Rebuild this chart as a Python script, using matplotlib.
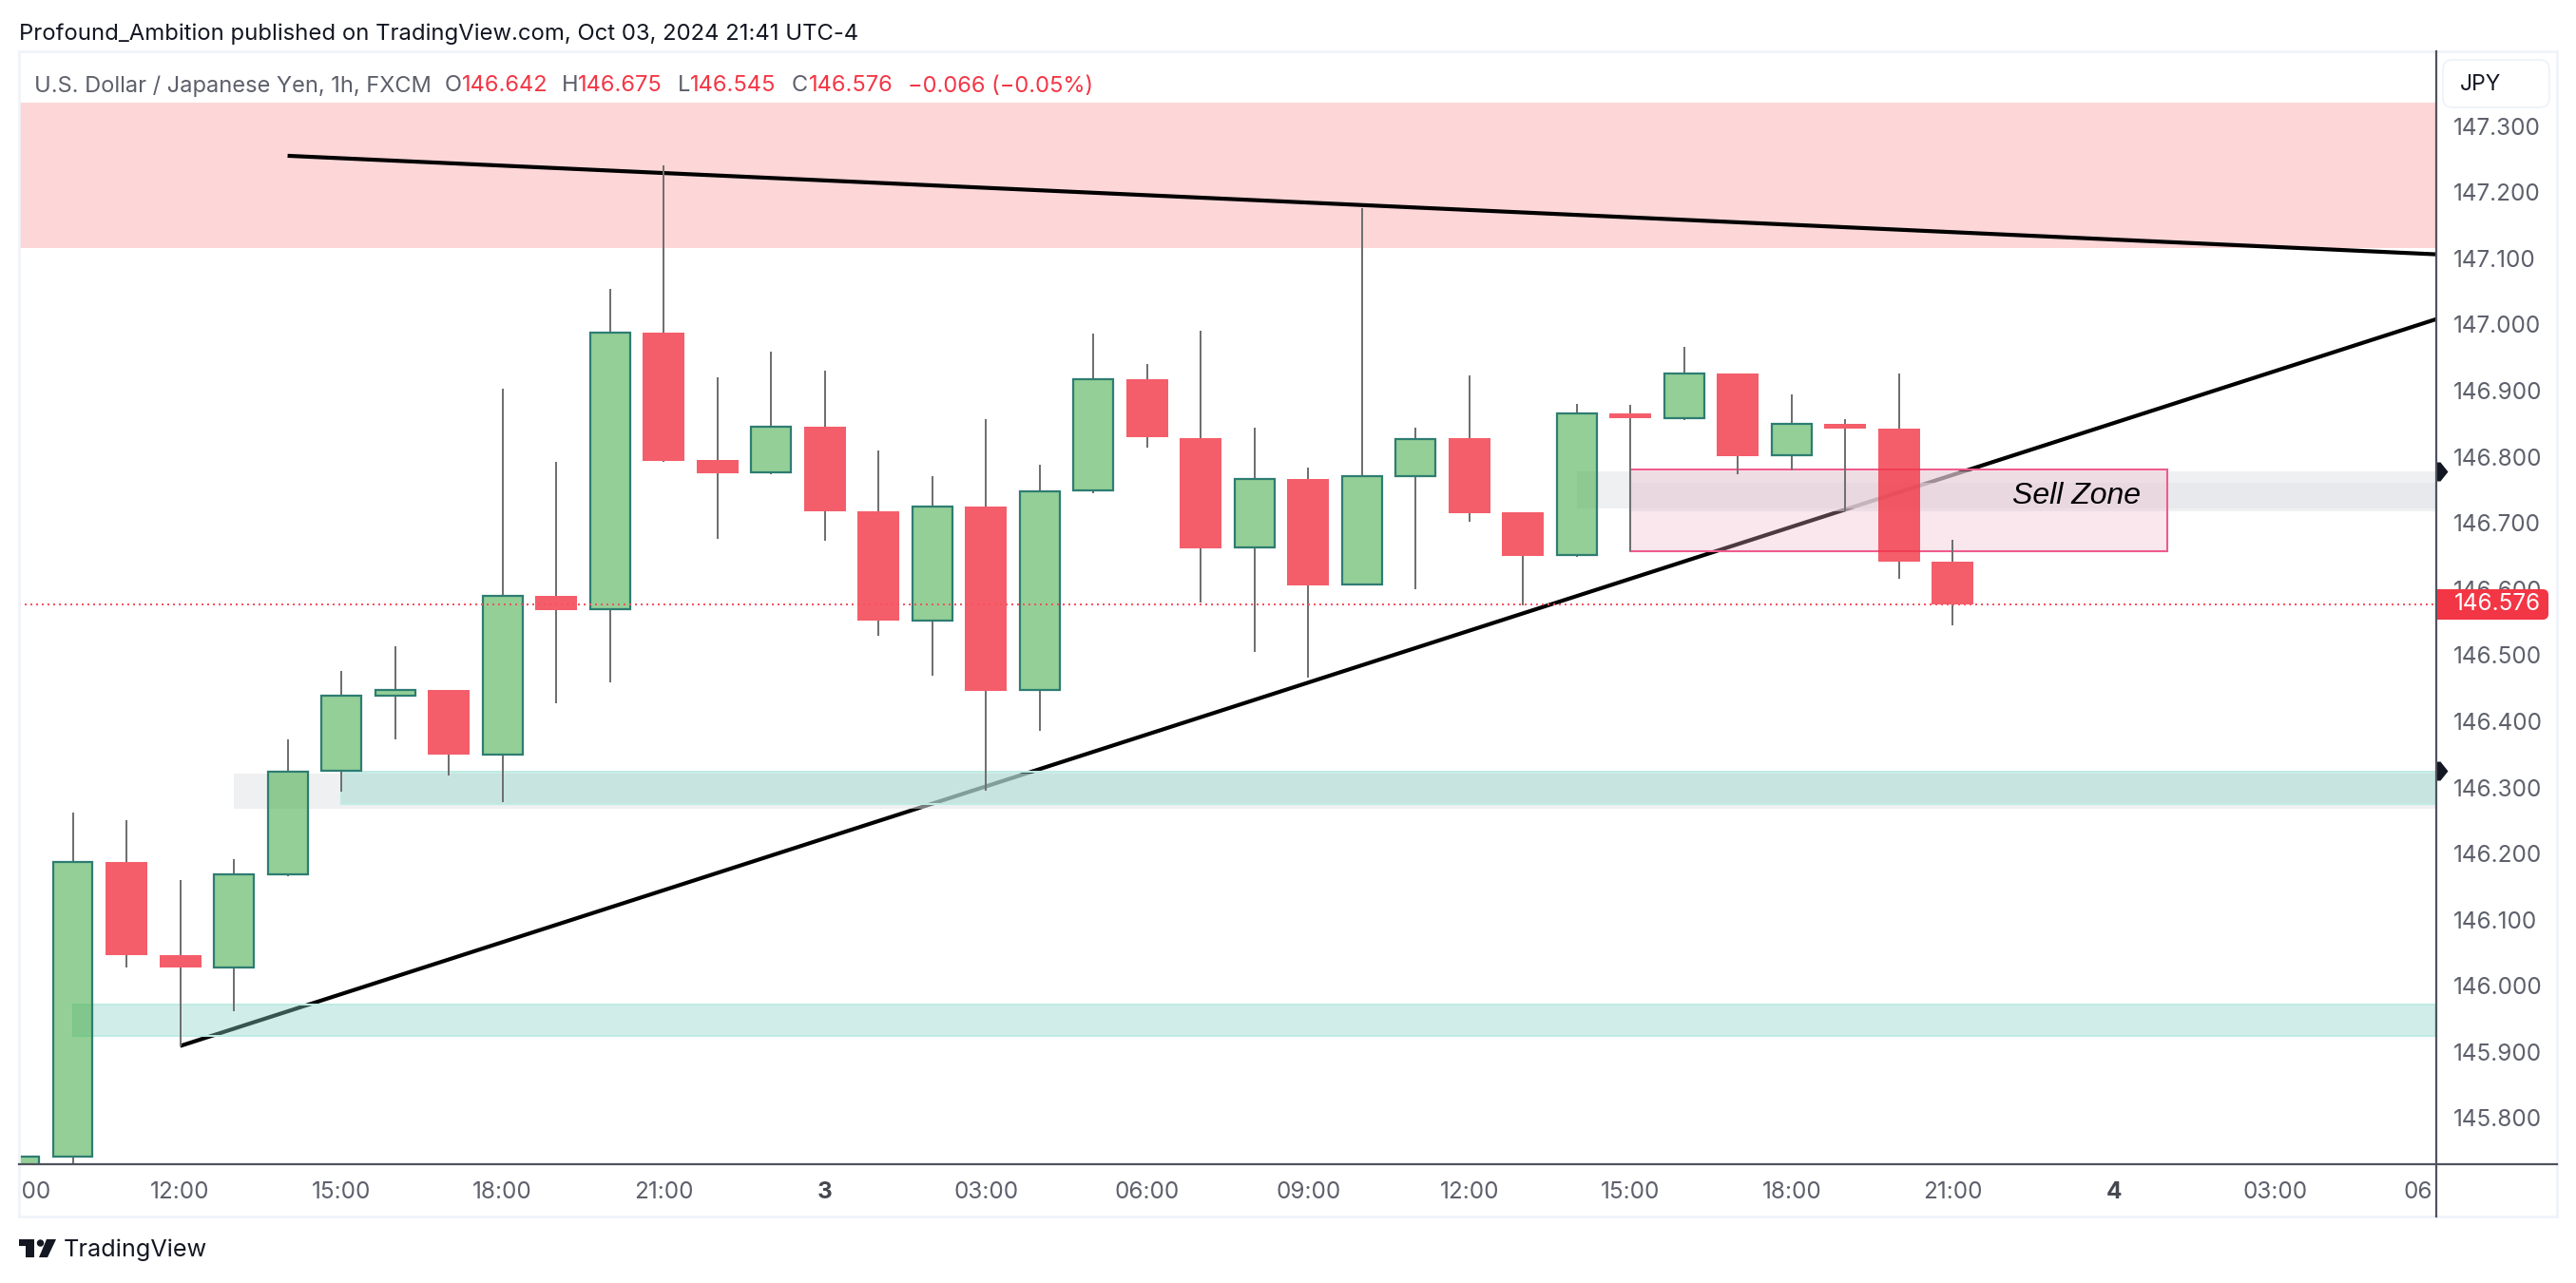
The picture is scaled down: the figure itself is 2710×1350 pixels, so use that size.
import matplotlib
matplotlib.use("Agg")
import matplotlib.pyplot as plt
import numpy as np
from matplotlib.lines import Line2D
from matplotlib.patches import Rectangle, Polygon, Circle, FancyBboxPatch
from matplotlib.transforms import Affine2D, Bbox

plt.rcParams['font.family'] = ['Inter', 'DejaVu Sans']

# horas contadas desde las 00:00 del dia 2
hours = np.arange(9, 46)
opens = [145.70, 145.742, 146.187, 146.046, 146.028, 146.168, 146.325, 146.438, 146.448, 146.349,
         146.590, 146.569, 146.988, 146.795, 146.776, 146.845, 146.717, 146.552, 146.725, 146.447,
         146.749, 146.917, 146.828, 146.663, 146.766, 146.607, 146.770, 146.828, 146.716, 146.651,
         146.865, 146.858, 146.926, 146.802, 146.850, 146.842, 146.642]
highs = [145.742, 146.262, 146.250, 146.160, 146.191, 146.373, 146.476, 146.514, 146.448, 146.903,
         146.792, 147.054, 147.241, 146.920, 146.959, 146.930, 146.810, 146.770, 146.857, 146.788,
         146.986, 146.940, 146.991, 146.844, 146.783, 147.176, 146.844, 146.923, 146.716, 146.880,
         146.878, 146.966, 146.926, 146.894, 146.857, 146.926, 146.675]
lows = [145.70, 145.732, 146.027, 145.909, 145.962, 146.166, 146.294, 146.373, 146.318, 146.278,
        146.427, 146.459, 146.792, 146.676, 146.773, 146.673, 146.529, 146.469, 146.295, 146.386,
        146.745, 146.814, 146.579, 146.505, 146.466, 146.606, 146.600, 146.702, 146.575, 146.649,
        146.657, 146.855, 146.773, 146.779, 146.717, 146.616, 146.545]
closes = [145.742, 146.187, 146.046, 146.027, 146.168, 146.324, 146.438, 146.447, 146.349, 146.589,
          146.568, 146.988, 146.794, 146.775, 146.845, 146.717, 146.552, 146.725, 146.446, 146.748,
          146.917, 146.829, 146.662, 146.766, 146.606, 146.770, 146.827, 146.715, 146.650, 146.865,
          146.858, 146.926, 146.801, 146.850, 146.842, 146.642, 146.576]

last_price = 146.576
price_ticks = [147.3, 147.2, 147.1, 147.0, 146.9, 146.8, 146.7, 146.6, 146.5, 146.4, 146.3, 146.2,
               146.1, 146.0, 145.9, 145.8]
time_ticks = [9, 12, 15, 18, 21, 24, 27, 30, 33, 36, 39, 42, 45, 48, 51, 54]
time_labels = ['09:00', '12:00', '15:00', '18:00', '21:00', '3', '03:00', '06:00', '09:00', '12:00',
               '15:00', '18:00', '21:00', '4', '03:00', '06:00']

# (inicio, precio bajo, precio alto)
red_zone = (9, 147.116, 147.336)
green_low = (10, 145.924, 145.972)
green_up = (15, 146.275, 146.324)
grey_up = (13, 146.267, 146.321)
grey_a = (38, 146.722, 146.778)
grey_b = (39, 146.717, 146.761)
sell_zone = (39, 49, 146.657, 146.781)
res_line_x, res_line_y = [14, 54], [147.255, 147.106]
sup_line_x, sup_line_y = [12, 54], [145.909, 147.008]
arrow_prices = [146.778, 146.325]

W, H = 2710, 1350
L, R, T, B = 20, 2563, 54, 1225
px_per_hour = 56.55
GREEN = (76/255, 175/255, 80/255, 0.6)
RED = (242/255, 54/255, 69/255, 0.8)
TEAL = '#2E7D72'
WICK = '#707070'
GREY_TXT = '#5D606B'
RED_TXT = '#F23645'
DARK = '#131722'
AXIS = '#50535E'
BORDER = '#F0F3FA'

fig = plt.figure(figsize=(W/100, H/100), dpi=100, facecolor='white')
ax = fig.add_axes([L/W, 1-B/H, (R-L)/W, (B-T)/H])
tpx = Affine2D().scale(1, -1).translate(0, H)  # pixeles desde arriba

x_left = 12 + (L-189.3)/px_per_hour
x_right = 12 + (R-189.3)/px_per_hour
ax.set_xlim(x_left, x_right)
ax.set_ylim(147.3-(B-132.6)/695.9, 147.3+(132.6-T)/695.9)


def zone(start, low, high, color, z, end=x_right, edge='none'):
    ax.add_patch(Rectangle((start, low), end-start, high-low, facecolor=color, edgecolor=edge,
                           linewidth=1.4, zorder=z))


zone(red_zone[0], red_zone[1], red_zone[2], '#FDD6D7', 1)
ax.plot(res_line_x, res_line_y, color='black', lw=3.0, zorder=2, solid_capstyle='butt')
ax.plot(sup_line_x, sup_line_y, color='black', lw=3.0, zorder=2, solid_capstyle='butt')

grey_c = (226/255, 228/255, 232/255, 0.54)
teal_c = (142/255, 212/255, 200/255, 0.4)
zone(grey_up[0], grey_up[1], grey_up[2], grey_c, 3)
zone(grey_a[0], grey_a[1], grey_a[2], grey_c, 3)
zone(grey_b[0], grey_b[1], grey_b[2], grey_c, 3)
zone(green_up[0], green_up[1], green_up[2], teal_c, 3.1, edge=(0.75, 0.92, 0.89, 1))
zone(green_low[0], green_low[1], green_low[2], teal_c, 3.1, edge=(0.75, 0.92, 0.89, 1))
ax.add_patch(Rectangle((sell_zone[0], sell_zone[2]), sell_zone[1]-sell_zone[0], sell_zone[3]-sell_zone[2],
                       facecolor=(240/255, 181/255, 200/255, 0.32), edgecolor='#EE5C8C', linewidth=1.5, zorder=3.5))
ax.text(47.3, 146.740, 'Sell Zone', fontsize=23, style='italic', family='Liberation Sans', color='black',
        ha='center', va='center', zorder=7)

# velas
o = np.array(opens)
c = np.array(closes)
up = c >= o
body_top = np.maximum(o, c)
body_bot = np.minimum(o, c)
ax.vlines(hours, body_top, highs, color=WICK, lw=1.44, zorder=5)
ax.vlines(hours, lows, body_bot, color=WICK, lw=1.44, zorder=5)
ax.bar(hours[up], (body_top-body_bot)[up], bottom=body_bot[up], width=42/px_per_hour, facecolor=GREEN,
       edgecolor=TEAL, linewidth=1.6, zorder=5)
ax.bar(hours[~up], (body_top-body_bot)[~up], bottom=body_bot[~up], width=44/px_per_hour, facecolor=RED,
       edgecolor='none', zorder=5)
ax.axhline(last_price, color='#F7525F', lw=1.44, ls=(0, (1, 2)), zorder=6)

for s in ax.spines.values():
    s.set_visible(False)
ax.set_xticks(time_ticks)
ax.set_xticklabels(time_labels)
ax.yaxis.tick_right()
ax.set_yticks(price_ticks)
ax.set_yticklabels(['%.3f' % p for p in price_ticks])
ax.tick_params(axis='y', length=0, pad=13, labelsize=17.5, labelcolor=GREY_TXT)
ax.tick_params(axis='x', length=0, pad=13, labelsize=17.5, labelcolor=GREY_TXT)
clip = Bbox([[L, 0], [R-3, H]])
for lab in ax.get_xticklabels():
    lab.set_clip_on(True)
    lab.set_clip_box(clip)
    if lab.get_text() in ('3', '4'):
        lab.set_fontweight('bold')
        lab.set_color('#45484F')

# flechas del eje de precios
arrow = [(0, -10), (5, -10), (13, 0), (5, 10), (0, 10), (0, -10)]
for p in arrow_prices:
    ax.plot([x_right], [p], marker=arrow, ms=18.7, color=DARK, mec='none', clip_on=False, zorder=8)

# marco
for xs, ys, col, lw in [([L, 2690], [54, 54], BORDER, 2), ([L, 2690], [1280, 1280], BORDER, 2),
                        ([L, L], [54, 1280], BORDER, 2), ([2690, 2690], [54, 1280], BORDER, 2),
                        ([L, 2690], [B, B], AXIS, 1.6), ([R, R], [54, 1280], AXIS, 1.6)]:
    fig.add_artist(Line2D(xs, ys, color=col, lw=lw, transform=tpx, zorder=4))

# etiqueta del ultimo precio
fig.add_artist(FancyBboxPatch((R+1, 620), 2681-R-1, 32, boxstyle='round,pad=0,rounding_size=6', linewidth=0,
                              facecolor='#F23645', transform=tpx, zorder=5))
fig.add_artist(Rectangle((R+1, 620), 12, 32, facecolor='#F23645', linewidth=0, transform=tpx, zorder=5))
fig.text(2582, 636, '146.576', color='white', fontsize=17.5, va='center', ha='left', transform=tpx, zorder=6)

# caja JPY
fig.add_artist(FancyBboxPatch((2570, 63), 112, 50, boxstyle='round,pad=0,rounding_size=10', linewidth=1.4,
                              edgecolor=BORDER, facecolor='white', transform=tpx, zorder=5))
fig.text(2588, 89, 'JPY', color=DARK, fontsize=16.5, va='center', ha='left', transform=tpx, zorder=6)

# cabecera
fig.text(20, 36, 'Profound_Ambition published on TradingView.com, Oct 03, 2024 21:41 UTC-4', color=DARK,
         fontsize=17.2, va='center', ha='left', transform=tpx)
head = [(36, 'U.S. Dollar / Japanese Yen, 1h, FXCM', GREY_TXT), (468, 'O', GREY_TXT), (486, '146.642', RED_TXT),
        (591, 'H', GREY_TXT), (608, '146.675', RED_TXT), (713, 'L', GREY_TXT), (726, '146.545', RED_TXT),
        (833, 'C', GREY_TXT), (851, '146.576', RED_TXT), (955, '\u22120.066 (\u22120.05%)', RED_TXT)]
for xp, s, col in head:
    fig.text(xp, 90.5, s, color=col, fontsize=17, va='center', ha='left', transform=tpx)

# logo
fig.add_artist(Polygon([(20, 1304), (36, 1304), (36, 1323), (27, 1323), (27, 1311), (20, 1311)], facecolor=DARK,
                       linewidth=0, transform=tpx))
fig.add_artist(Circle((42.5, 1308), 3.7, facecolor=DARK, linewidth=0, transform=tpx))
fig.add_artist(Polygon([(49, 1304), (59, 1304), (50, 1323), (41, 1323)], facecolor=DARK, linewidth=0, transform=tpx))
fig.text(67, 1315, 'TradingView', color=DARK, fontsize=18.2, va='center', ha='left', transform=tpx)

fig.savefig('out.png', dpi=100)
